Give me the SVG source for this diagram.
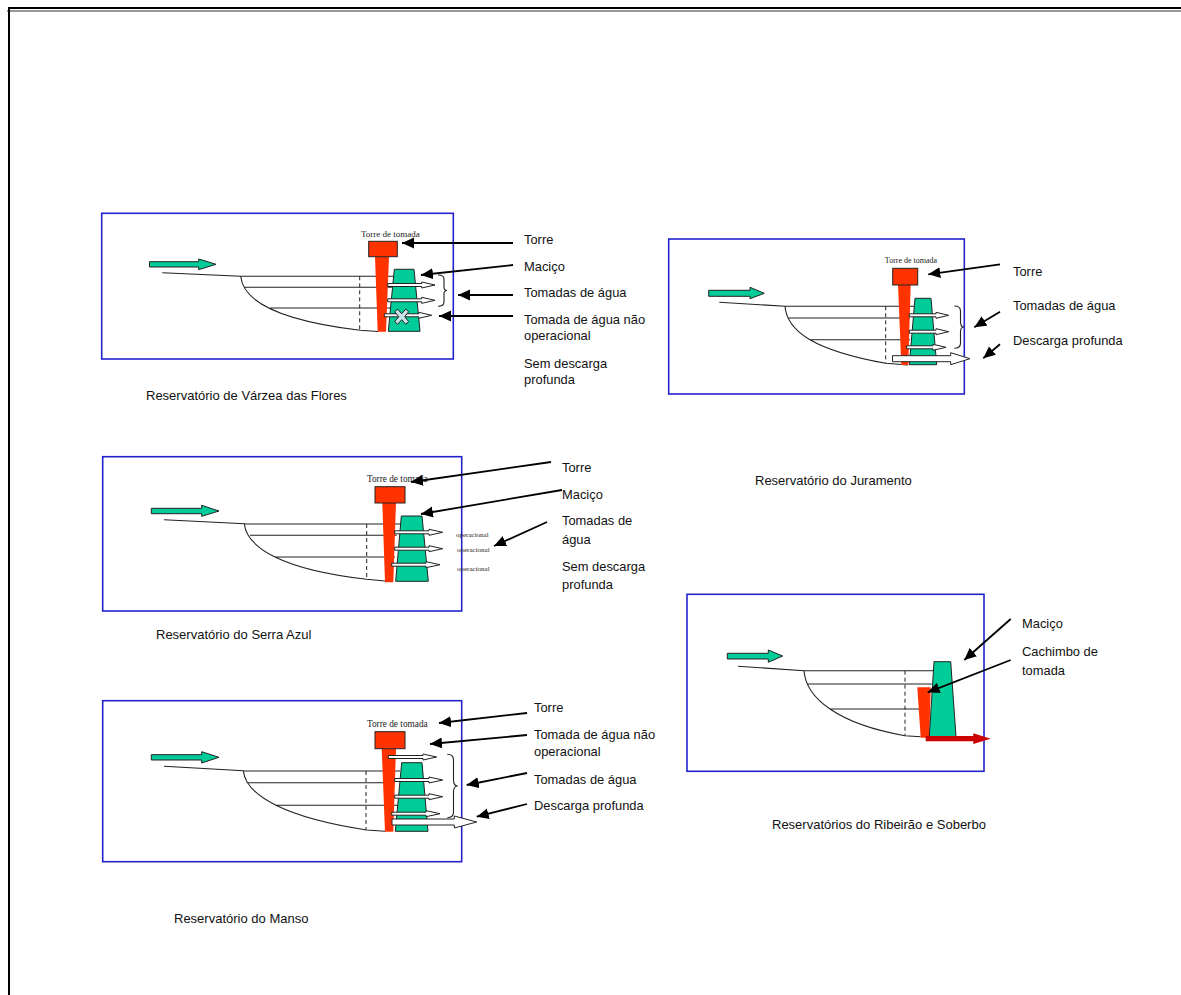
<svg xmlns="http://www.w3.org/2000/svg" width="1181" height="995" viewBox="0 0 1181 995">
<style>
.panel{fill:#fff;stroke:#2222cc;stroke-width:1.6}
.ln{fill:none;stroke:#222;stroke-width:1.1}
.dash{fill:none;stroke:#222;stroke-width:1;stroke-dasharray:4 3}
.inflow{fill:#00cc99;stroke:#222;stroke-width:1}
.dam{fill:#00cc99;stroke:#222;stroke-width:1}
.head{fill:#ff3300;stroke:#222;stroke-width:1}
.shaft{fill:#ff3300;stroke:none}
.out{fill:#fff;stroke:#222;stroke-width:1}
.ptr{fill:none;stroke:#000;stroke-width:1.8;marker-end:url(#tip)}
.lab{font-family:"Liberation Sans",Arial,sans-serif;font-size:12.9px;fill:#111}
.cap{font-family:"Liberation Sans",Arial,sans-serif;font-size:13px;fill:#111}
.tt{font-family:"Liberation Serif","Times New Roman",serif;font-size:9px;fill:#222;text-anchor:middle}
.op{font-family:"Liberation Serif","Times New Roman",serif;font-size:7px;fill:#222}
</style>
<defs>
<marker id="tip" markerUnits="userSpaceOnUse" markerWidth="13" markerHeight="12" refX="12" refY="5.5" orient="auto"><path d="M0 0L12 5.5L0 11Z" fill="#000"/></marker>
</defs>
<g id="frame">
<rect x="8" y="7" width="1173" height="2" fill="#000"/>
<rect x="7" y="10.5" width="1174" height="1" fill="#333"/>
<rect x="8" y="7" width="2" height="988" fill="#000"/>
</g>

<g id="varzea">
<rect class="panel" x="101.7" y="213.3" width="351.6" height="145.7"/>
<polygon class="inflow" points="149.5,261.7 198.7,261.7 198.7,259 216,264.3 198.7,269.7 198.7,267 149.5,267"/>
<path class="ln" d="M162.3 272.7L240.7 276.3C243 300 275 320 360 330.3L378 331.5M240.7 276.3H395M244 287.3H392M270 308H390"/>
<path class="dash" d="M359.7 276.3V330.3"/>
<polygon class="shaft" points="375,256.7 389,256.7 386,331.7 377.7,331.7"/>
<rect class="head" x="368.7" y="241.3" width="28.6" height="15.4"/>
<polygon class="dam" points="394.3,269.3 414,269.3 420,331.3 388.3,331.3"/>
<polygon class="out" points="387.7,283.5 421.7,283.5 421.7,282 435,285 421.7,288 421.7,286.5 387.7,286.5"/>
<polygon class="out" points="387.7,298.8 421.7,298.8 421.7,297.3 435,300.3 421.7,303.3 421.7,301.8 387.7,301.8"/>
<polygon class="out" points="384.3,313.8 418.7,313.8 418.7,312.3 431.7,315.3 418.7,318.3 418.7,316.8 384.3,316.8"/>
<polygon points="394.7,311.7 397.7,309.2 401.7,313.7 405.7,309.2 408.7,311.7 404.7,316.7 408.7,321.7 405.7,324.2 401.7,319.7 397.7,324.2 394.7,321.7 398.7,316.7" fill="#c5e3e8" stroke="#222" stroke-width="1"/>
<path class="ln" d="M438 275Q444 275 444 279V287Q444 290.5 447 290.5Q444 290.5 444 294V302Q444 306.3 438 306.3"/>
<text class="tt" x="390.3" y="236.7">Torre de tomada</text>
</g>

<g id="juramento">
<rect class="panel" x="668.7" y="239" width="295.6" height="155"/>
<polygon class="inflow" points="708.7,290.3 750,290.3 750,287.3 764.3,293.3 750,298.7 750,296.3 708.7,296.3"/>
<path class="ln" d="M719.3 302.3L785 306.3C787 332 816 350.7 885.7 363.3L908 365M785 306.3H914M788.3 318H910M810 339.7H910"/>
<path class="dash" d="M885.7 306.3V363.3"/>
<polygon class="shaft" points="898,285 910.7,285 908.3,365 901.3,365"/>
<rect class="head" x="892.7" y="268.3" width="25" height="16.7"/>
<polygon class="dam" points="915,298.3 931,298.3 936.7,364.7 909.3,364.7"/>
<polygon class="out" points="909.3,313.8 936,313.8 936,312.3 948.7,315.3 936,318.3 936,316.8 909.3,316.8"/>
<polygon class="out" points="909.3,330.2 936,330.2 936,328.7 948.7,331.7 936,334.7 936,333.2 909.3,333.2"/>
<polygon class="out" points="906.7,345.8 933,345.8 933,344.3 946,347.3 933,350.3 933,348.8 906.7,348.8"/>
<polygon class="out" points="892.5,355.7 950.7,355.7 950.7,352.7 970,358.7 950.7,364.7 950.7,361.7 892.5,361.7"/>
<path class="ln" d="M954.3 306Q960.5 306 960.5 311V322Q960.5 327 964 327Q960.5 327 960.5 332V343Q960.5 348.3 954.3 348.3"/>
<text class="tt" style="font-size:8px" x="911" y="263.3">Torre de tomada</text>
</g>

<g id="serra-azul">
<rect class="panel" x="102.7" y="456.7" width="359" height="154.3"/>
<polygon class="inflow" points="151.3,508.3 201.7,508.3 201.7,505.3 219,511 201.7,516.3 201.7,513.7 151.3,513.7"/>
<path class="ln" d="M164 519.7L244.3 523.7C247 548 282.6 569.6 366.7 579.3L385 581M244.3 524H401M250 535.3H396.7M275 557H395"/>
<path class="dash" d="M366.7 524V579.3"/>
<polygon class="shaft" points="382.3,503 396,503 393.3,582.3 385,582.3"/>
<rect class="head" x="375" y="486.7" width="30" height="16.3"/>
<polygon class="dam" points="401.3,516 422,516 428.3,581.3 395.7,581.3"/>
<polygon class="out" points="394.7,530.8 429,530.8 429,529.3 442.7,532.3 429,535.3 429,533.8 394.7,533.8"/>
<polygon class="out" points="394.7,547.2 429,547.2 429,545.7 442.7,548.7 429,551.7 429,550.2 394.7,550.2"/>
<polygon class="out" points="391.7,563.2 426,563.2 426,561.7 440,564.7 426,567.7 426,566.2 391.7,566.2"/>
<text class="tt" style="font-size:9.3px" x="397.3" y="482.3">Torre de tomada</text>
<text class="op" x="456" y="537">operacional</text>
<text class="op" x="457" y="551.5">operacional</text>
<text class="op" x="457" y="570.5">operacional</text>
</g>

<g id="manso">
<rect class="panel" x="102.7" y="700.7" width="359" height="161"/>
<polygon class="inflow" points="151.3,754.7 201.7,754.7 201.7,751.7 219,757.3 201.7,763 201.7,760 151.3,760"/>
<path class="ln" d="M164 766.3L243.3 770.7C246 796 286.7 817.9 366.7 830L385 831.3M243.3 771H400M246.7 782.7H395M275 805.3H398.3"/>
<path class="dash" d="M366 771V830"/>
<polygon class="shaft" points="381.7,748.7 396,748.7 393.3,831.7 385,831.7"/>
<rect class="head" x="375" y="731.7" width="30" height="17"/>
<polygon class="dam" points="401.7,762.7 422,762.7 428,831.3 395.3,831.3"/>
<polygon class="out" points="388.3,755.5 423,755.5 423,754 436.7,757 423,760 423,758.5 388.3,758.5"/>
<polygon class="out" points="394.7,778.5 429,778.5 429,777 442.7,780 429,783 429,781.5 394.7,781.5"/>
<polygon class="out" points="394.7,795.2 429,795.2 429,793.7 442.7,796.7 429,799.7 429,798.2 394.7,798.2"/>
<polygon class="out" points="391.7,812.2 426,812.2 426,810.7 440,813.7 426,816.7 426,815.2 391.7,815.2"/>
<polygon class="out" points="392,819 454.3,819 454.3,816 476.7,822 454.3,828 454.3,825 392,825"/>
<path class="ln" d="M447.3 754.3Q453.5 754.3 453.5 760V780Q453.5 786 457.7 786Q453.5 786 453.5 792V812Q453.5 817.7 447.3 817.7"/>
<text class="tt" style="font-size:9.3px" x="397.3" y="726.7">Torre de tomada</text>
</g>

<g id="ribeirao">
<rect class="panel" x="687" y="594.3" width="297" height="177"/>
<polygon class="inflow" points="727.3,653.3 768.3,653.3 768.3,650 782.7,656 768.3,662.3 768.3,659 727.3,659"/>
<path class="ln" d="M738 666.3L804 670.7C806 698 837.7 723.9 905 735.7L920.7 736.7M804 670.7H934M807.3 684H931.7M830 709H930"/>
<path class="dash" d="M905 670.7V735.7"/>
<polygon class="shaft" points="917.3,687.3 930.7,687.3 929.3,737.7 920.7,737.7"/>
<polygon class="dam" points="934,661.7 950.7,661.7 956,736.7 929.3,736.7"/>
<polygon points="925.7,736 973.3,736 973.3,733.3 990.7,738.7 973.3,744 973.3,741.3 925.7,741.3" fill="#cc0000"/>
</g>

<g id="connectors">
<line class="ptr" x1="513" y1="243" x2="402" y2="243"/>
<line class="ptr" x1="513" y1="265" x2="421" y2="275"/>
<line class="ptr" x1="513" y1="295" x2="458" y2="295"/>
<line class="ptr" x1="513" y1="316" x2="439" y2="316"/>
<line class="ptr" x1="1000" y1="264.3" x2="928.3" y2="274.3"/>
<line class="ptr" x1="1000" y1="311.7" x2="974.3" y2="327.3"/>
<line class="ptr" x1="1000" y1="344.3" x2="983.3" y2="358.3"/>
<line class="ptr" x1="551" y1="462" x2="411" y2="482"/>
<line class="ptr" x1="562" y1="490" x2="421" y2="514"/>
<line class="ptr" x1="547" y1="522" x2="494" y2="546"/>
<line class="ptr" x1="527" y1="713" x2="439" y2="723"/>
<line class="ptr" x1="527" y1="735" x2="430" y2="744"/>
<line class="ptr" x1="527" y1="773" x2="466.7" y2="785"/>
<line class="ptr" x1="527" y1="804" x2="476.7" y2="816.7"/>
<line class="ptr" x1="1010.7" y1="619" x2="964.3" y2="660"/>
<line class="ptr" x1="1010.7" y1="660" x2="927.7" y2="692.3"/>
</g>

<g id="labels">
<text class="lab" x="524" y="244">Torre</text>
<text class="lab" x="524" y="270.7">Maciço</text>
<text class="lab" x="524" y="296.7">Tomadas de água</text>
<text class="lab" x="524" y="323.7">Tomada de água não</text>
<text class="lab" x="524" y="340">operacional</text>
<text class="lab" x="524" y="368.3">Sem descarga</text>
<text class="lab" x="524" y="383.5">profunda</text>
<text class="cap" x="146" y="400">Reservatório de Várzea das Flores</text>
<text class="lab" x="1013" y="276">Torre</text>
<text class="lab" x="1013" y="310">Tomadas de água</text>
<text class="lab" x="1013" y="345">Descarga profunda</text>
<text class="cap" x="755" y="485">Reservatório do Juramento</text>
<text class="lab" x="562" y="472">Torre</text>
<text class="lab" x="562" y="499">Maciço</text>
<text class="lab" x="562" y="525">Tomadas de</text>
<text class="lab" x="562" y="544">água</text>
<text class="lab" x="562" y="571">Sem descarga</text>
<text class="lab" x="562" y="589">profunda</text>
<text class="cap" x="156" y="639">Reservatório do Serra Azul</text>
<text class="lab" x="534" y="712">Torre</text>
<text class="lab" x="534" y="739">Tomada de água não</text>
<text class="lab" x="534" y="756">operacional</text>
<text class="lab" x="534" y="784">Tomadas de água</text>
<text class="lab" x="534" y="810">Descarga profunda</text>
<text class="cap" x="174" y="923">Reservatório do Manso</text>
<text class="lab" x="1022" y="628">Maciço</text>
<text class="lab" x="1022" y="656">Cachimbo de</text>
<text class="lab" x="1022" y="675">tomada</text>
<text class="cap" x="772" y="829">Reservatórios do Ribeirão e Soberbo</text>
</g>
</svg>
